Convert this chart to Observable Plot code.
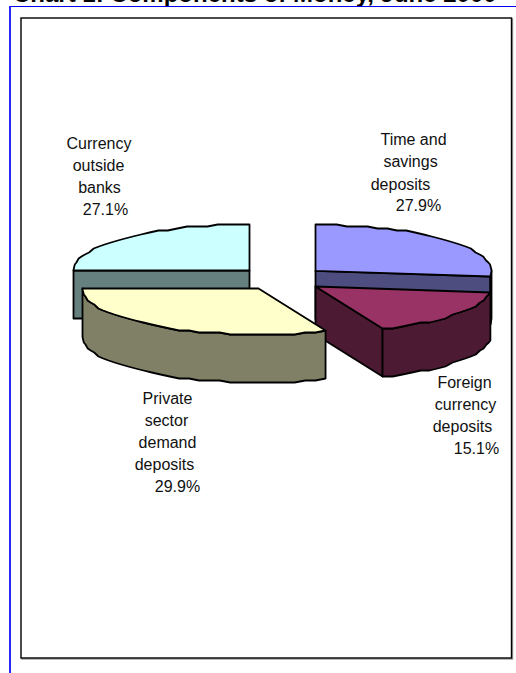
<!DOCTYPE html>
<html>
<head>
<meta charset="utf-8">
<script src="https://cdn.jsdelivr.net/npm/d3@7"></script>
<script src="https://cdn.jsdelivr.net/npm/@observablehq/plot@0.6"></script>
<style>
  html, body { margin: 0; padding: 0; background: #fff; overflow: hidden; width: 516px; height: 673px; }
  #page { position: relative; width: 516px; height: 673px; overflow: hidden; }
  #title {
    position: absolute; left: 13px; top: -20px; white-space: nowrap;
    font: bold 24px/28px "Liberation Sans", Arial, sans-serif; color: #000;
  }
  #rule {
    position: absolute; left: 9px; top: 6px; right: 0; bottom: 0;
    border-left: 2px solid #2a2af5; border-top: 1px solid #0000f0;
  }
  #chart { position: absolute; left: 0; top: 0; }
  #chart svg { display: block; }
</style>
</head>
<body>
<div id="page">
  <div id="title">Chart 1: Components of Money, June 2000</div>
  <div id="rule"></div>
  <div id="chart"></div>
</div>
<script>
// Slices run clockwise from twelve o'clock.
const categories = ["Time and savings deposits", "Foreign currency deposits", "Private sector demand deposits", "Currency outside banks"];
const shares = [27.9, 15.1, 29.9, 27.1];
const topColors = ["#9999FF", "#993366", "#FFFFCC", "#CCFFFF"];
const sideColors = ["#4D4D80", "#4D1A33", "#808066", "#668080"];

// Label wording, one entry per line; the share is appended as the last line.
const labelLines = [
  ["Time and", "savings", "deposits"],
  ["Foreign", "currency", "deposits"],
  ["Private", "sector", "demand", "deposits"],
  ["Currency", "outside", "banks"]
];
const labelSpots = [
  [[413, 144], [410, 166], [400, 189], [418, 210]],
  [[464, 387], [465, 409], [462, 431], [476, 453]],
  [[167, 403], [166, 425], [167, 447], [164, 469], [177, 491]],
  [[98.5, 148], [98, 170], [99, 192], [105, 214]]
];

// Pie layout: exploded centre of each slice, ellipse radii, wall depth.
const centers = [[315, 270.4], [315, 286], [258, 288], [249, 270]];
const radiusX = 176, radiusY = 46, depth = 48;
// Perspective correction of the boundaries between slices, in degrees.
const boundaryShift = [0, -4, 2.8, 7.6, 0];
const arcStep = 3.5, grain = 2;

const total = d3.sum(shares);
const cumulative = [0, ...d3.cumsum(shares)].map(v => v / total * 360);
const drawn = cumulative.map((a, i) => a + boundaryShift[i]);
const rad = d => d * Math.PI / 180;
// Rim heights are held to a coarse grain, which gives the stepped outline.
const rim = (c, a, dz = 0) => ({
  x: c[0] + radiusX * Math.sin(rad(a)),
  y: Math.round((c[1] - radiusY * Math.cos(rad(a))) / grain) * grain + dz
});
const hub = (c, dz = 0) => ({x: c[0], y: c[1] + dz});
const arc = (c, a0, a1, dz = 0) => {
  const n = Math.max(1, Math.round(Math.abs(a1 - a0) / arcStep));
  return d3.range(n + 1).map(k => rim(c, a0 + (a1 - a0) * k / n, dz));
};

const lw = 1.8;
const poly = (pts, fill) => Plot.line([...pts, pts[0]], {
  x: "x", y: "y", fill, stroke: "#000", strokeWidth: lw, strokeLinejoin: "round", curve: "linear"
});

// One solid slice: visible cut faces and rim wall first, then the top.
function slice(i) {
  const c = centers[i], a0 = drawn[i], a1 = drawn[i + 1], side = sideColors[i];
  const out = [];
  const s0 = Math.sin(rad(a0)), s1 = Math.sin(rad(a1));
  if (s0 < -0.01) out.push(poly([hub(c), rim(c, a0), rim(c, a0, depth), hub(c, depth)], side));
  if (s1 > 0.01) out.push(poly([hub(c), rim(c, a1), rim(c, a1, depth), hub(c, depth)], side));
  const w0 = Math.max(a0, 90), w1 = Math.min(a1, 270);
  if (w1 > w0) out.push(poly([...arc(c, w0, w1), ...arc(c, w1, w0, depth)], side));
  out.push(poly([hub(c), ...arc(c, a0, a1)], topColors[i]));
  return out;
}

const labels = labelLines.flatMap((lines, i) =>
  [...lines, `${shares[i].toFixed(1)}%`].map((text, k) => ({
    text, x: labelSpots[i][k][0], y: labelSpots[i][k][1]
  })));

const frameLeft = 20.5, frameRight = 511, frameTop = 17.5, frameBottom = 657.5;
const chart = Plot.plot({
  width: 516, height: 673,
  marginLeft: frameLeft, marginRight: 516 - frameRight, marginTop: frameTop, marginBottom: 673 - frameBottom,
  x: {domain: [frameLeft, frameRight], axis: null},
  y: {domain: [frameBottom, frameTop], axis: null},
  style: {background: "transparent", overflow: "visible"},
  marks: [
    Plot.frame({stroke: "#9a9a9a", strokeWidth: 1.4, dx: 1, dy: 1}),
    Plot.frame({stroke: "#000", strokeWidth: 1.4, fill: "#fff"}),
    // back to front: currency, time, foreign, private
    ...slice(3), ...slice(0), ...slice(1), ...slice(2),
    Plot.text(labels, {
      x: "x", y: "y", text: "text", lineAnchor: "bottom", textAnchor: "middle",
      fontFamily: "'Liberation Sans', Arial, sans-serif", fontSize: 16, fill: "#111"
    })
  ]
});
document.getElementById("chart").append(chart);
</script>
</body>
</html>
